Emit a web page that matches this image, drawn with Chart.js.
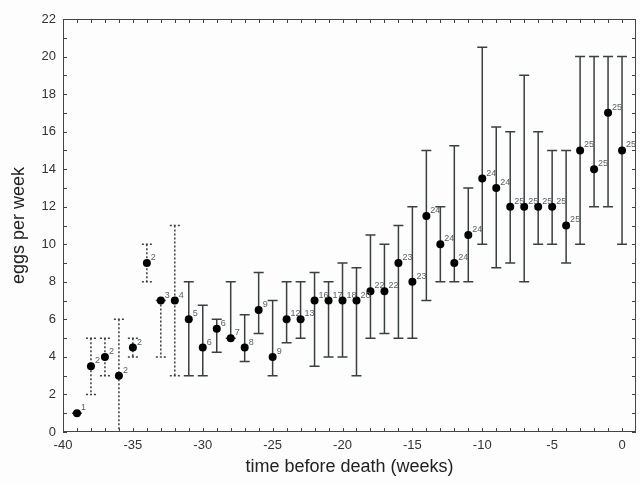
<!DOCTYPE html>
<html>
<head>
<meta charset="utf-8">
<script src="https://cdn.jsdelivr.net/npm/chart.js@4.4.1/dist/chart.umd.min.js"></script>
<style>
    html, body { margin: 0; padding: 0; background: #fdfdfd; }
    #wrap { width: 640px; height: 484px; }
</style>
</head>
<body>
<div id="wrap"><canvas id="eggChart"></canvas></div>
<script>
// weeks before death, mean eggs per week, range, number of animals
var weeks  = [-39, -38, -37, -36, -35, -34, -33, -32, -31, -30, -29, -28, -27, -26, -25, -24, -23, -22, -21, -20,
              -19, -18, -17, -16, -15, -14, -13, -12, -11, -10, -9, -8, -7, -6, -5, -4, -3, -2, -1, 0];
var eggs   = [1, 3.5, 4, 3, 4.5, 9, 7, 7, 6, 4.5, 5.5, 5, 4.5, 6.5, 4, 6, 6, 7, 7, 7,
              7, 7.5, 7.5, 9, 8, 11.5, 10, 9, 10.5, 13.5, 13, 12, 12, 12, 12, 11, 15, 14, 17, 15];
var lower  = [1, 2, 3, -1, 4, 8, 4, 3, 3, 3, 4.25, 5, 3.75, 5.25, 3, 4.75, 5, 3.5, 4, 4,
              3, 5, 5.25, 5, 5, 7, 8, 8, 8, 10, 8.75, 9, 8, 10, 10, 9, 10, 12, 12, 10];
var upper  = [1, 5, 5, 6, 5, 10, 7, 11, 8, 6.75, 6, 8, 6.25, 8.5, 7, 8, 8, 8.5, 8, 9,
              8.75, 10.5, 10, 11, 12, 15, 12, 15.25, 13, 20.5, 16.25, 16, 19, 16, 15, 15, 20, 20, 20, 20];
var counts = [1, 2, 2, 2, 2, 2, 3, 4, 5, 6, 6, 7, 8, 9, 9, 12, 13, 16, 17, 18,
              20, 22, 22, 23, 23, 24, 24, 24, 24, 24, 24, 25, 25, 25, 25, 25, 25, 25, 25, 25];
var xTicks = [-40, -35, -30, -25, -20, -15, -10, -5, 0];
var yTicks = [0, 2, 4, 6, 8, 10, 12, 14, 16, 18, 20, 22];
var lastDotted = -32;

var points = weeks.map(function (w, i) { return {x: w, y: eggs[i]}; });

var errorBars = {
    id: 'errorBars',
    beforeDatasetsDraw: function (chart) {
        var ctx = chart.ctx, xs = chart.scales.x, ys = chart.scales.y, a = chart.chartArea;
        ctx.save();
        ctx.beginPath();
        ctx.rect(a.left, a.top, a.right - a.left, a.bottom - a.top);
        ctx.clip();
        ctx.strokeStyle = '#3a3f42';
        ctx.lineWidth = 1.5;
        for (var i = 0; i < weeks.length; i++) {
            var px = xs.getPixelForValue(weeks[i]);
            var top = ys.getPixelForValue(upper[i]);
            var bot = ys.getPixelForValue(lower[i]);
            ctx.setLineDash(weeks[i] <= lastDotted ? [2, 2] : []);
            ctx.beginPath();
            ctx.moveTo(px, top);
            ctx.lineTo(px, bot);
            ctx.moveTo(px - 5, top);
            ctx.lineTo(px + 5, top);
            ctx.moveTo(px - 5, bot);
            ctx.lineTo(px + 5, bot);
            ctx.stroke();
        }
        ctx.setLineDash([]);
        ctx.restore();
    },
    afterDatasetsDraw: function (chart) {
        var ctx = chart.ctx, xs = chart.scales.x, ys = chart.scales.y;
        ctx.save();
        ctx.fillStyle = '#5a6068';
        ctx.font = '9px "Liberation Sans", Arial, sans-serif';
        ctx.textAlign = 'left';
        ctx.textBaseline = 'bottom';
        for (var i = 0; i < weeks.length; i++) {
            var px = xs.getPixelForValue(weeks[i]);
            var py = ys.getPixelForValue(eggs[i]);
            ctx.fillText(String(counts[i]), px + 4, py - 1);
        }
        ctx.restore();
    },
    afterDraw: function (chart) {
        var ctx = chart.ctx, xs = chart.scales.x, ys = chart.scales.y, a = chart.chartArea;
        ctx.save();
        ctx.strokeStyle = '#444';
        ctx.lineWidth = 1;
        ctx.strokeRect(a.left + 0.5, a.top + 0.5, a.right - a.left - 1, a.bottom - a.top - 1);
        ctx.beginPath();
        for (var w = -40; w <= 0; w++) {
            var px = Math.round(xs.getPixelForValue(w)) + 0.5;
            ctx.moveTo(px, a.bottom);
            ctx.lineTo(px, a.bottom - 4);
            ctx.moveTo(px, a.top);
            ctx.lineTo(px, a.top + 4);
        }
        for (var v = 0; v <= 22; v++) {
            var py = Math.round(ys.getPixelForValue(v)) + 0.5;
            ctx.moveTo(a.left, py);
            ctx.lineTo(a.left + 4, py);
            ctx.moveTo(a.right, py);
            ctx.lineTo(a.right - 4, py);
        }
        ctx.stroke();
        ctx.restore();
    }
};

var ctx = document.getElementById('eggChart');
var eggChart = new Chart(ctx, {
    type: 'scatter',
    data: {
        datasets: [{
            data: points,
            backgroundColor: '#000',
            borderColor: '#000',
            borderWidth: 0,
            pointRadius: 4,
            pointHoverRadius: 4
        }]
    },
    options: {
        responsive: true,
        maintainAspectRatio: false,
        animation: false,
        events: [],
        layout: {padding: {top: 19, right: 1, left: 0, bottom: 0}},
        plugins: {
            legend: {display: false},
            tooltip: {enabled: false}
        },
        scales: {
            x: {
                type: 'linear',
                min: -40,
                max: 1,
                afterBuildTicks: function (scale) {
                    scale.ticks = xTicks.map(function (v) { return {value: v}; });
                },
                afterFit: function (scale) { scale.height = 52; },
                grid: {display: false, drawTicks: false},
                border: {display: false},
                ticks: {
                    padding: 6,
                    color: '#333',
                    font: {family: '"Liberation Sans", Arial, sans-serif', size: 13},
                    maxRotation: 0
                },
                title: {
                    display: true,
                    text: 'time before death (weeks)',
                    color: '#222',
                    font: {family: '"Liberation Sans", Arial, sans-serif', size: 18},
                    padding: {top: 0, bottom: 6}
                }
            },
            y: {
                type: 'linear',
                min: 0,
                max: 22,
                afterBuildTicks: function (scale) {
                    scale.ticks = yTicks.map(function (v) { return {value: v}; });
                },
                afterFit: function (scale) { scale.width = 63; },
                grid: {display: false, drawTicks: false},
                border: {display: false},
                ticks: {
                    padding: 7,
                    color: '#333',
                    font: {family: '"Liberation Sans", Arial, sans-serif', size: 13}
                },
                title: {
                    display: true,
                    text: 'eggs per week',
                    color: '#222',
                    font: {family: '"Liberation Sans", Arial, sans-serif', size: 18},
                    padding: {top: 8, bottom: 0}
                }
            }
        }
    },
    plugins: [errorBars]
});
</script>
</body>
</html>
